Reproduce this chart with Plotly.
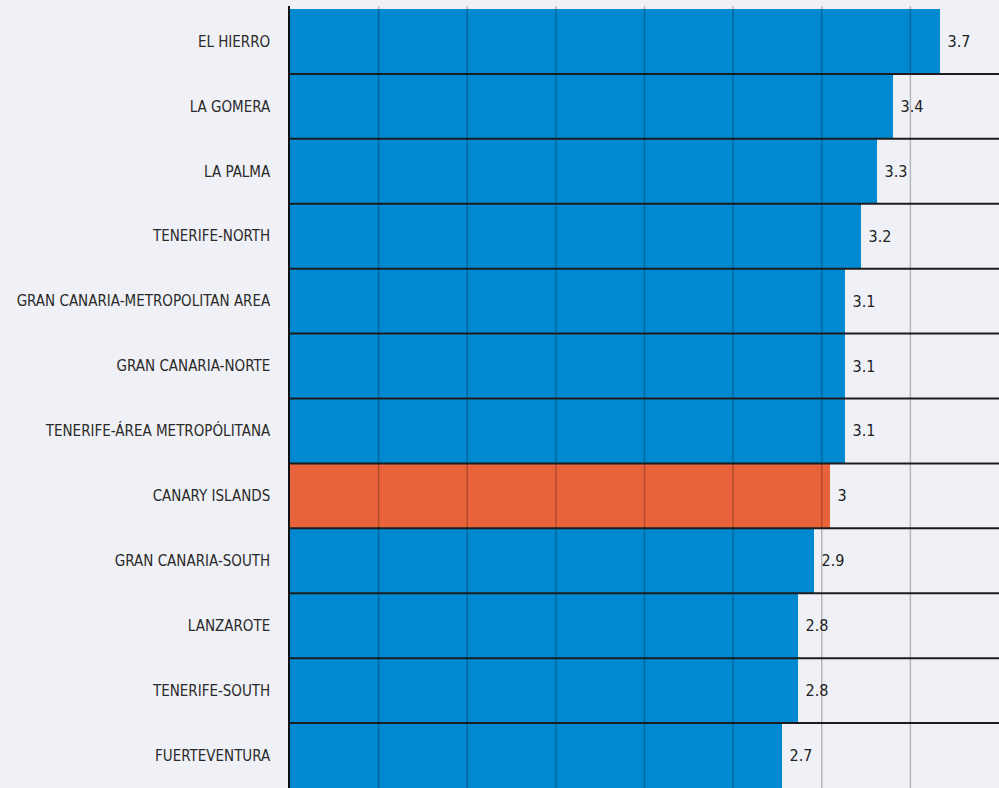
import plotly.graph_objects as go

# Regions, top to bottom, with their values
regions = [
    "EL HIERRO",
    "LA GOMERA",
    "LA PALMA",
    "TENERIFE-NORTH",
    "GRAN CANARIA-METROPOLITAN AREA",
    "GRAN CANARIA-NORTE",
    "TENERIFE-ÁREA METROPÓLITANA",
    "CANARY ISLANDS",
    "GRAN CANARIA-SOUTH",
    "LANZAROTE",
    "TENERIFE-SOUTH",
    "FUERTEVENTURA",
]
values = [3.7, 3.4, 3.3, 3.2, 3.1, 3.1, 3.1, 3.0, 2.9, 2.8, 2.8, 2.7]
highlight = "CANARY ISLANDS"

BLUE = "#0089d1"
ORANGE = "#e9633a"
BG = "#f0f1f6"
FONT = "Liberation Sans Narrow, DejaVu Sans Condensed, Roboto, sans-serif"

# value scale of the plotting area; bars grow from its left edge
x_min, x_max = -0.41, 4.07

colors = [ORANGE if r == highlight else BLUE for r in regions]

fig = go.Figure(
    go.Bar(
        y=regions,
        x=[v - x_min for v in values],
        base=x_min,
        orientation="h",
        marker=dict(color=colors, line=dict(width=0)),
        text=[f" {v:g}" for v in values],
        textposition="outside",
        textfont=dict(family=FONT, size=16, color="#222222"),
        cliponaxis=False,
        hoverinfo="skip",
    )
)

n = len(regions)

# vertical grid: eight equal divisions of the value axis, drawn over the bars
for i in range(1, 8):
    gx = x_min + i * (x_max - x_min) / 8
    fig.add_shape(
        type="line", xref="x", yref="paper", x0=gx, x1=gx, y0=0, y1=1,
        line=dict(color="rgba(0,0,0,0.24)", width=1.5), layer="above",
    )

# dark separators between the rows
for i in range(n - 1):
    fig.add_shape(
        type="line", xref="paper", yref="y", x0=0, x1=1, y0=i + 0.5, y1=i + 0.5,
        line=dict(color="#1c1c1c", width=2), layer="above",
    )

fig.update_layout(
    width=999,
    height=788,
    margin=dict(l=290, r=0, t=6, b=0),
    paper_bgcolor=BG,
    plot_bgcolor=BG,
    bargap=0,
    showlegend=False,
    xaxis=dict(
        range=[x_min, x_max],
        showgrid=False,
        zeroline=False,
        showticklabels=False,
        ticks="",
        fixedrange=True,
    ),
    yaxis=dict(
        categoryorder="array",
        categoryarray=regions[::-1],
        range=[-0.5, n - 1 + 0.546],
        showgrid=False,
        zeroline=False,
        showline=True,
        linecolor="#111111",
        linewidth=1.5,
        layer="above traces",
        ticks="",
        ticklabelstandoff=15,
        tickfont=dict(family=FONT, size=15, color="#2a2a2a"),
        fixedrange=True,
    ),
)

fig.write_html("out.html")
